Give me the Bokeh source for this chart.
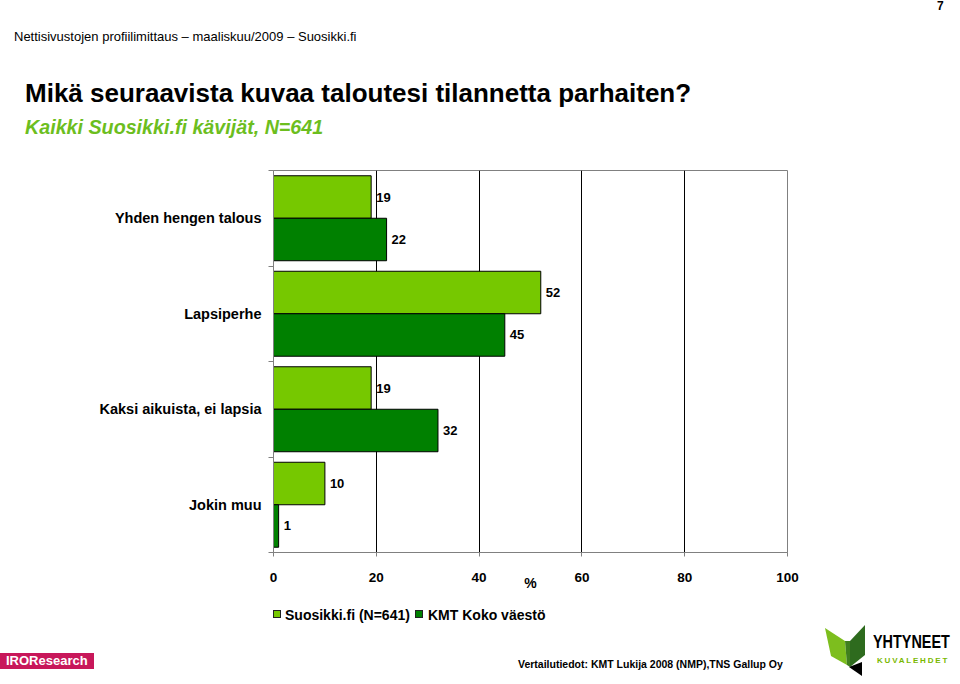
from bokeh.plotting import figure
from bokeh.models import (Range1d, FixedTicker, LabelSet, ColumnDataSource, Div)
from bokeh.layouts import column
from bokeh.transform import dodge
from bokeh.core.properties import value
from bokeh.embed import file_html
from bokeh.resources import INLINE

categories = ["Yhden hengen talous", "Lapsiperhe", "Kaksi aikuista, ei lapsia", "Jokin muu"]
suosikki = [19, 52, 19, 10]
kmt = [22, 45, 32, 1]
series_names = ["Suosikki.fi (N=641)", "KMT Koko väestö"]
x_ticks = [0, 20, 40, 60, 80, 100]

LIGHT = "#76C800"
DARK = "#008000"
FONT = "Liberation Sans"
CSSFONT = "font-family:'Liberation Sans',Arial,sans-serif;"

n = len(categories)
pos = [n - i - 0.5 for i in range(n)]

W = 960
HEAD_H = 150
FIG_H = 450
FOOT_H = 84
FL, FT, FW, FH = 273, 20, 514, 382

p = figure(width=W, height=FIG_H, frame_width=FW, frame_height=FH,
           output_backend="svg", toolbar_location=None,
           x_range=Range1d(0, 100), y_range=Range1d(0, n),
           min_border_left=FL, min_border_top=FT, min_border_right=W - FL - FW,
           min_border_bottom=FIG_H - FT - FH)
p.outline_line_color = "#808080"
p.background_fill_color = "white"
p.border_fill_color = "white"

BH = 0.445
src1 = ColumnDataSource(dict(y=pos, v=suosikki, lab=[str(v) for v in suosikki]))
src2 = ColumnDataSource(dict(y=pos, v=kmt, lab=[str(v) for v in kmt]))
r1 = p.hbar(y=dodge('y', BH / 2), left=0, right='v', height=BH, fill_color=LIGHT,
            line_color="black", line_width=1, source=src1)
r2 = p.hbar(y=dodge('y', -BH / 2), left=0, right='v', height=BH, fill_color=DARK,
            line_color="black", line_width=1, source=src2)

for src, off in ((src1, BH / 2), (src2, -BH / 2)):
    p.add_layout(LabelSet(x='v', y=dodge('y', off), text='lab', source=src, x_offset=5,
                          text_baseline="middle", text_font=value(FONT),
                          text_font_size=value("13px"), text_font_style=value("bold"),
                          text_color=value("black")))

# grid
p.ygrid.visible = False
p.xgrid.ticker = FixedTicker(ticks=x_ticks[1:])
p.xgrid.grid_line_color = "black"
p.xgrid.grid_line_width = 1

# x axis
xa = p.xaxis[0]
xa.ticker = FixedTicker(ticks=x_ticks)
xa.axis_line_color = "#808080"
xa.major_tick_line_color = "#808080"
xa.major_tick_out = 4
xa.major_tick_in = 0
xa.minor_tick_line_color = None
xa.major_label_standoff = 16
xa.major_label_text_font = FONT
xa.major_label_text_font_size = "13.5px"
xa.major_label_text_font_style = "bold"
xa.major_label_text_color = "black"
xa.axis_label = "%"
xa.axis_label_standoff = -10
xa.axis_label_text_font = FONT
xa.axis_label_text_font_size = "14px"
xa.axis_label_text_font_style = "bold"
xa.axis_label_text_color = "black"

# y axis
ya = p.yaxis[0]
ya.ticker = FixedTicker(ticks=pos, minor_ticks=list(range(n + 1)))
ya.major_label_overrides = {pv: c for pv, c in zip(pos, categories)}
ya.axis_line_color = "#808080"
ya.major_tick_out = 0
ya.major_tick_in = 0
ya.minor_tick_out = 5
ya.minor_tick_in = 0
ya.minor_tick_line_color = "#808080"
ya.major_label_standoff = 7
ya.major_label_text_font = FONT
ya.major_label_text_font_size = "14.5px"
ya.major_label_text_font_style = "bold"
ya.major_label_text_color = "black"


def span(left, top, text, size, weight="normal", style="normal", color="black", extra=""):
    return (f'<span style="position:absolute;left:{left}px;top:{top}px;white-space:nowrap;'
            f'line-height:1;{CSSFONT}font-size:{size}px;font-weight:{weight};'
            f'font-style:{style};color:{color};{extra}">{text}</span>')


def box(left, top, color):
    return (f'<span style="position:absolute;left:{left}px;top:{top}px;width:8px;height:8px;'
            f'background:{color};border:1px solid #222;"></span>')


head_html = (f'<div style="position:relative;width:{W}px;height:{HEAD_H}px;background:white;">'
             + span(14, 30, "Nettisivustojen profiilimittaus \u2013 maaliskuu/2009 \u2013 Suosikki.fi", 13)
             + span(937, 0, "7", 12, "bold")
             + span(25, 80, "Mikä seuraavista kuvaa taloutesi tilannetta parhaiten?", 26, "bold")
             + span(25, 118, "Kaikki Suosikki.fi kävijät, N=641", 19.7, "bold", "italic", "#6CBE1E")
             + '</div>')
header = Div(text=head_html, width=W, height=HEAD_H, margin=0)

logo_svg = ('<svg style="position:absolute;left:815px;top:22px;overflow:visible" width="60" height="60" '
            'viewBox="815 622 60 60">'
            '<polygon points="825,628 845,641 847,665 831,656" fill="#7DBE1E"/>'
            '<polygon points="845,641 850,641 850,667 847,665" fill="#3F7F1E"/>'
            '<polygon points="850,641 865,625 865,655 850,667" fill="#2E6B1E"/>'
            '<polygon points="849,667 862,662 862,676" fill="black"/>'
            '</svg>')

foot_html = (f'<div style="position:relative;width:{W}px;height:{FOOT_H}px;">'
             + box(273, 10, LIGHT)
             + span(285, 8, series_names[0], 14, "bold")
             + box(415, 10, DARK)
             + span(428, 8, series_names[1], 14, "bold")
             + span(0, 53, "IROResearch", 13, "bold", color="white",
                    extra="background:#C8175A;width:94px;height:16px;line-height:16px;padding-left:6px;")
             + span(518, 59, "Vertailutiedot: KMT Lukija 2008 (NMP),TNS Gallup Oy", 10.5, "bold")
             + logo_svg
             + span(873, 33, "YHTYNEET", 18, "bold", extra="transform:scaleX(0.8);transform-origin:left;")
             + span(877, 57, "KUVALEHDET", 8, "bold", color="#7AB800", extra="letter-spacing:1.8px;")
             + '</div>')
footer = Div(text=foot_html, width=W, height=FOOT_H, margin=0)

layout = column(header, p, footer, spacing=0)
open("out.html", "w").write(file_html(layout, INLINE))
